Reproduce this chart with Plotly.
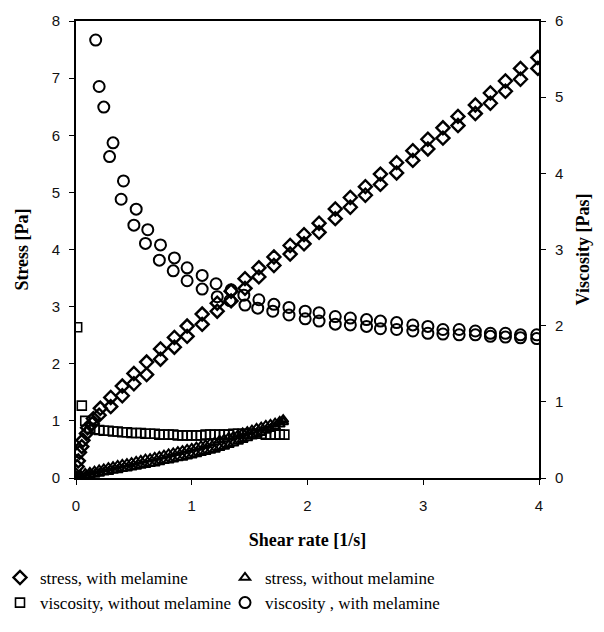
import plotly.graph_objects as go

# ---- stress, with melamine (up & down sweeps) ----
stress_mel_x = [0.00, 0.01, 0.02, 0.03, 0.05, 0.06, 0.09, 0.10, 0.14, 0.15, 0.20, 0.21,
                0.30, 0.30, 0.40, 0.40, 0.50, 0.50, 0.61, 0.61, 0.73, 0.73, 0.85, 0.85,
                0.96, 0.96, 1.09, 1.09, 1.22, 1.22, 1.34, 1.34, 1.46, 1.46, 1.58, 1.58,
                1.71, 1.71, 1.85, 1.85, 1.97, 1.97, 2.10, 2.10, 2.24, 2.24, 2.37, 2.37,
                2.50, 2.50, 2.63, 2.63, 2.77, 2.77, 2.91, 2.91, 3.04, 3.04, 3.17, 3.17,
                3.30, 3.30, 3.45, 3.45, 3.58, 3.58, 3.71, 3.71, 3.84, 3.84, 3.99, 3.99]
stress_mel_y = [0.05, 0.20, 0.30, 0.45, 0.55, 0.66, 0.78, 0.88, 0.95, 1.04, 1.10, 1.22,
                1.25, 1.41, 1.44, 1.61, 1.65, 1.83, 1.81, 2.03, 2.08, 2.26, 2.29, 2.46,
                2.48, 2.66, 2.69, 2.87, 2.92, 3.06, 3.10, 3.27, 3.32, 3.49, 3.52, 3.68,
                3.72, 3.87, 3.92, 4.07, 4.10, 4.26, 4.30, 4.46, 4.54, 4.71, 4.74, 4.91,
                4.95, 5.10, 5.14, 5.32, 5.34, 5.52, 5.56, 5.73, 5.76, 5.93, 5.95, 6.13,
                6.17, 6.33, 6.38, 6.53, 6.56, 6.74, 6.77, 6.95, 6.98, 7.17, 7.17, 7.36]

# ---- stress, without melamine ----
stress_nomel_x = [0.00, 0.04, 0.08, 0.12, 0.16, 0.20, 0.24, 0.28, 0.32, 0.36, 0.40, 0.44,
                  0.48, 0.52, 0.56, 0.60, 0.64, 0.68, 0.72, 0.76, 0.80, 0.84, 0.88, 0.92,
                  0.96, 1.00, 1.04, 1.08, 1.12, 1.16, 1.20, 1.24, 1.28, 1.32, 1.36, 1.40,
                  1.44, 1.48, 1.52, 1.56, 1.60, 1.64, 1.68, 1.72, 1.76, 1.79]
stress_nomel_lo = [0.00, 0.01, 0.03, 0.05, 0.06, 0.08, 0.10, 0.11, 0.13, 0.14, 0.16, 0.17,
                   0.19, 0.20, 0.22, 0.23, 0.25, 0.26, 0.28, 0.30, 0.31, 0.33, 0.35, 0.36,
                   0.38, 0.40, 0.42, 0.44, 0.46, 0.48, 0.50, 0.53, 0.55, 0.58, 0.61, 0.64,
                   0.67, 0.70, 0.73, 0.76, 0.79, 0.83, 0.86, 0.90, 0.94, 0.98]
stress_nomel_hi = [0.02, 0.05, 0.08, 0.10, 0.12, 0.14, 0.16, 0.18, 0.20, 0.22, 0.24, 0.25,
                   0.27, 0.29, 0.31, 0.33, 0.34, 0.36, 0.38, 0.40, 0.42, 0.44, 0.46, 0.48,
                   0.50, 0.52, 0.54, 0.56, 0.58, 0.61, 0.63, 0.66, 0.68, 0.71, 0.73, 0.76,
                   0.79, 0.81, 0.84, 0.87, 0.89, 0.92, 0.94, 0.96, 0.99, 1.02]

# ---- viscosity, without melamine ----
visc_nomel_x = [0.00, 0.01, 0.05, 0.08, 0.12, 0.16, 0.20, 0.24, 0.28, 0.32, 0.36, 0.40,
                0.44, 0.48, 0.52, 0.56, 0.60, 0.64, 0.68, 0.72, 0.76, 0.80, 0.84, 0.88,
                0.92, 0.96, 1.00, 1.04, 1.08, 1.12, 1.16, 1.20, 1.24, 1.28, 1.32, 1.36,
                1.40, 1.44, 1.48, 1.52, 1.56, 1.60, 1.64, 1.68, 1.72, 1.76, 1.80]
visc_nomel_y = [0.00, 1.98, 0.95, 0.75, 0.66, 0.64, 0.63, 0.62, 0.62, 0.61, 0.61, 0.60,
                0.60, 0.59, 0.59, 0.59, 0.58, 0.58, 0.58, 0.57, 0.57, 0.57, 0.57, 0.56,
                0.56, 0.56, 0.56, 0.56, 0.56, 0.57, 0.57, 0.57, 0.57, 0.57, 0.57, 0.58,
                0.58, 0.58, 0.58, 0.58, 0.58, 0.58, 0.57, 0.57, 0.57, 0.57, 0.57]

# ---- viscosity, with melamine ----
visc_mel_x = [0.00, 0.17, 0.20, 0.24, 0.29, 0.32, 0.39, 0.41, 0.50, 0.52, 0.60, 0.62,
              0.72, 0.73, 0.84, 0.85, 0.96, 0.96, 1.09, 1.09, 1.21, 1.22, 1.33, 1.34,
              1.45, 1.46, 1.57, 1.58, 1.70, 1.71, 1.84, 1.84, 1.98, 1.98, 2.10, 2.10,
              2.24, 2.24, 2.37, 2.37, 2.51, 2.51, 2.63, 2.63, 2.77, 2.77, 2.91, 2.91,
              3.04, 3.04, 3.17, 3.17, 3.31, 3.31, 3.45, 3.45, 3.58, 3.58, 3.71, 3.71,
              3.84, 3.84, 3.98, 3.98]
visc_mel_y = [0.00, 5.75, 5.14, 4.87, 4.22, 4.40, 3.66, 3.90, 3.32, 3.53, 3.08, 3.26,
              2.86, 3.06, 2.72, 2.89, 2.59, 2.76, 2.48, 2.66, 2.55, 2.38, 2.33, 2.47,
              2.40, 2.27, 2.23, 2.34, 2.19, 2.28, 2.14, 2.24, 2.09, 2.19, 2.06, 2.17,
              2.02, 2.12, 2.01, 2.10, 1.99, 2.08, 1.96, 2.06, 1.95, 2.04, 1.93, 2.01,
              1.90, 1.99, 1.89, 1.95, 1.88, 1.95, 1.88, 1.93, 1.86, 1.90, 1.85, 1.90,
              1.84, 1.88, 1.83, 1.88]

x_ticks = [0, 1, 2, 3, 4]
stress_ticks = [0, 1, 2, 3, 4, 5, 6, 7, 8]
visc_ticks = [0, 1, 2, 3, 4, 5, 6]

serif = "Liberation Serif, Times New Roman, serif"
sans = "Liberation Sans, Arial, sans-serif"
blk = "black"

fig = go.Figure()
fig.add_trace(go.Scatter(
    x=stress_mel_x, y=stress_mel_y, mode="markers", name="stress, with melamine",
    marker=dict(symbol="diamond-open", size=10, color=blk, line=dict(width=2.4, color=blk)),
    yaxis="y"))
fig.add_trace(go.Scatter(
    x=stress_nomel_x + stress_nomel_x, y=stress_nomel_lo + stress_nomel_hi, mode="markers",
    name="stress, without melamine",
    marker=dict(symbol="triangle-up-open", size=9, color=blk, line=dict(width=2, color=blk)),
    yaxis="y"))
fig.add_trace(go.Scatter(
    x=visc_nomel_x, y=visc_nomel_y, mode="markers", name="viscosity, without melamine",
    marker=dict(symbol="square-open", size=9, color=blk, line=dict(width=1.6, color=blk)),
    yaxis="y2"))
fig.add_trace(go.Scatter(
    x=visc_mel_x, y=visc_mel_y, mode="markers", name="viscosity , with melamine",
    marker=dict(symbol="circle-open", size=11, color=blk, line=dict(width=2, color=blk)),
    yaxis="y2"))

axis_common = dict(showgrid=False, zeroline=False, showline=True, linecolor=blk, linewidth=2,
                   ticks="outside", ticklen=5, tickcolor=blk, tickwidth=1,
                   tickfont=dict(family=sans, size=15, color="#111"))

fig.update_layout(
    width=604, height=632,
    margin=dict(l=76, r=65, t=17, b=154),
    paper_bgcolor="white", plot_bgcolor="white",
    xaxis=dict(range=[0, 4], tickvals=x_ticks, mirror=True, ticklabelstandoff=8,
               title=dict(text="<b>Shear rate [1/s]</b>", font=dict(family=serif, size=18, color=blk),
                          standoff=20),
               **axis_common),
    yaxis=dict(range=[0, 8], tickvals=stress_ticks, ticklabelstandoff=6,
               title=dict(text="<b>Stress [Pa]</b>", font=dict(family=serif, size=18, color=blk),
                          standoff=18),
               **axis_common),
    yaxis2=dict(range=[0, 6], tickvals=visc_ticks, overlaying="y", side="right", ticklabelstandoff=6,
                title=dict(text="<b>Viscosity [Pas]</b>", font=dict(family=serif, size=18, color=blk),
                           standoff=14),
                **axis_common),
    showlegend=True,
    legend=dict(orientation="h", xref="container", yref="container", x=-0.005, y=0.114,
                xanchor="left", yanchor="top", entrywidth=180, entrywidthmode="pixels",
                font=dict(family=serif, size=17, color=blk), itemsizing="trace",
                tracegroupgap=0, bgcolor="rgba(0,0,0,0)"),
)

fig.write_html("out.html")
